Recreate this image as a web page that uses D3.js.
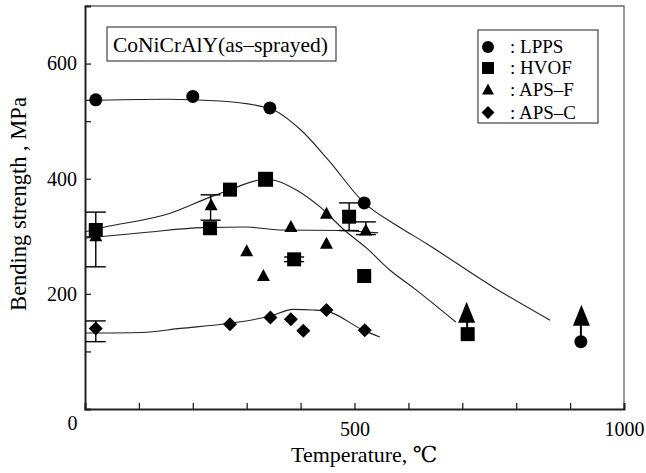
<!DOCTYPE html>
<html>
<head>
<meta charset="utf-8">
<script src="https://cdn.jsdelivr.net/npm/d3@7"></script>
<style>
  html, body { margin: 0; padding: 0; background: #fff; }
  svg { display: block; }
  text { font-family: "Liberation Serif", "Tinos", "Times New Roman", "DejaVu Serif", serif; fill: #000; }
</style>
</head>
<body>
<svg id="chart" width="646" height="473"></svg>
<script>
// ---- Data ----
const lppsT = [20, 200, 343, 518, 920];
const lppsS = [537, 543, 523, 358, 117];
const hvofT = [20, 232, 269, 335, 388, 490, 518, 710];
const hvofS = [311, 314, 381, 399, 260, 334, 231, 130];
const apsfT = [20, 234, 300, 331, 382, 448, 448, 521, 708, 921];
const apsfS = [300, 354, 274, 231, 316, 339, 287, 310, 165, 160];
const apscT = [20, 269, 344, 382, 405, 448, 519];
const apscS = [140, 147, 159, 156, 136, 172, 137];

// error bars with caps: temperature, low, high
const errT  = [20, 20, 233, 388, 490, 521];
const errLo = [247, 117, 328, 256, 310, 303];
const errHi = [342, 153, 372, 264, 358, 325];
// error bars without visible caps (hidden by the markers)
const connT  = [709, 920];
const connLo = [130, 118];
const connHi = [165, 160];

// fitted trend curves
const lppsFitT = [0, 150, 250, 343, 400, 450, 518, 580, 634, 757, 863];
const lppsFitS = [536, 538, 535, 522, 485, 434, 358, 318, 287, 212, 154];
const hvofFitT = [0, 37, 158, 232, 269, 334, 353, 393, 436, 482, 523, 566, 610, 688];
const hvofFitS = [308, 316, 340, 368, 381, 399, 397, 380, 351, 310, 279, 241, 210, 151];
const apsfFitT = [0, 37, 115, 219, 300, 360, 473, 544];
const apsfFitS = [297, 300, 307, 315, 316, 311, 310, 306];
const apscFitT = [0, 105, 177, 269, 343, 386, 423, 448, 516, 547];
const apscFitS = [132, 133, 140, 149, 161, 173, 172, 170, 137, 125];

const xTicks = [0, 100, 200, 300, 400, 500, 600, 700, 800, 900, 1000];
const xTickLabels = [0, 500, 1000];
const yTicks = [100, 200, 300, 400, 500, 600];
const yTickLabels = [200, 400, 600];

const titleText = "CoNiCrAlY(as\u2013sprayed)";
const legendNames = [": LPPS", ": HVOF", ": APS\u2013F", ": APS\u2013C"];
const xLabel = "Temperature, \u2103";
const yLabel = "Bending strength , MPa";

// ---- Drawing ----
const FONT = '"Liberation Serif", "Tinos", "Times New Roman", "DejaVu Serif", serif';
const svg = d3.select("#chart");
const L = 85, R = 624, T = 6, B = 409;
const x = d3.scaleLinear().domain([0, 1000]).range([L, R]);
const y = d3.scaleLinear().domain([0, 700]).range([B, T]);

// frame (top/right)
svg.append("path")
  .attr("d", `M${L},${T}H${R}V${B}`)
  .attr("fill", "none").attr("stroke", "#666").attr("stroke-width", 1.3);

// axes
const xAxis = d3.axisBottom(x).tickValues(xTicks).tickSize(-6).tickPadding(13)
  .tickFormat(d => xTickLabels.includes(d) ? d : "");
const gx = svg.append("g").attr("transform", `translate(0,${B})`).call(xAxis);
gx.attr("font-family", FONT);
gx.select(".domain").attr("stroke", "#222").attr("stroke-width", 2);
gx.selectAll(".tick line").attr("stroke", "#222").attr("stroke-width", 1.3);
gx.selectAll(".tick text").style("font-family", FONT).style("font-size", "20px").attr("fill", "#000");
gx.selectAll(".tick").filter(d => d === 0).select("text").attr("dx", -13).attr("dy", "0.4em");

const yAxis = d3.axisLeft(y).tickValues(yTicks).tickSize(-6).tickPadding(8)
  .tickFormat(d => yTickLabels.includes(d) ? d : "");
const gy = svg.append("g").attr("transform", `translate(${L},0)`).call(yAxis);
gy.attr("font-family", FONT);
gy.select(".domain").attr("stroke", "#222").attr("stroke-width", 2);
gy.selectAll(".tick line").attr("stroke", "#222").attr("stroke-width", 1.3);
gy.selectAll(".tick text").style("font-family", FONT).style("font-size", "20px").attr("fill", "#000");

// axis titles
svg.append("text").attr("x", 291).attr("y", 462)
  .style("font-size", "22px").text(xLabel);
svg.append("text").attr("transform", "translate(26,204) rotate(-90)")
  .attr("text-anchor", "middle").style("font-size", "22.5px").text(yLabel);

// fitted curves
const zip = (a, b) => a.map((v, i) => [v, b[i]]);
const line = d3.line().x(d => x(d[0])).y(d => y(d[1])).curve(d3.curveMonotoneX);
[[lppsFitT, lppsFitS], [hvofFitT, hvofFitS], [apsfFitT, apsfFitS], [apscFitT, apscFitS]].forEach(([a, b]) => {
  svg.append("path").attr("d", line(zip(a, b)))
    .attr("fill", "none").attr("stroke", "#222").attr("stroke-width", 1.1);
});

// error bars
const cap = 10;
const eg = svg.append("g").attr("stroke", "#000").attr("stroke-width", 1.4);
errT.forEach((t, i) => {
  const cx = x(t);
  eg.append("line").attr("x1", cx).attr("x2", cx).attr("y1", y(errLo[i])).attr("y2", y(errHi[i]));
  eg.append("line").attr("x1", cx - cap).attr("x2", cx + cap).attr("y1", y(errLo[i])).attr("y2", y(errLo[i]));
  eg.append("line").attr("x1", cx - cap).attr("x2", cx + cap).attr("y1", y(errHi[i])).attr("y2", y(errHi[i]));
});
connT.forEach((t, i) => {
  const cx = x(t);
  eg.append("line").attr("x1", cx).attr("x2", cx).attr("y1", y(connLo[i])).attr("y2", y(connHi[i]))
    .attr("stroke-width", 2);
});

// marker shapes
function circle(g, cx, cy, r) { g.append("circle").attr("cx", cx).attr("cy", cy).attr("r", r); }
function square(g, cx, cy, s) { g.append("rect").attr("x", cx - s / 2).attr("y", cy - s / 2).attr("width", s).attr("height", s); }
function triangle(g, cx, cy, w, h) {
  g.append("path").attr("d", `M${cx},${cy - h * 0.58}L${cx + w / 2},${cy + h * 0.42}L${cx - w / 2},${cy + h * 0.42}Z`);
}
function diamond(g, cx, cy, s) {
  g.append("path").attr("d", `M${cx},${cy - s / 2}L${cx + s / 2},${cy}L${cx},${cy + s / 2}L${cx - s / 2},${cy}Z`);
}

const mg = svg.append("g").attr("fill", "#000");
apsfT.forEach((t, i) => {
  const big = t > 600;
  triangle(mg, x(t), y(apsfS[i]), big ? 17 : 13, big ? 21 : 12);
});
hvofT.forEach((t, i) => square(mg, x(t), y(hvofS[i]), t === 335 ? 15 : 14));
lppsT.forEach((t, i) => circle(mg, x(t), y(lppsS[i]), 6.5));
apscT.forEach((t, i) => diamond(mg, x(t), y(apscS[i]), 14));

// title box
svg.append("rect").attr("x", 107).attr("y", 27).attr("width", 229).attr("height", 34)
  .attr("fill", "#fff").attr("stroke", "#444").attr("stroke-width", 1.2);
svg.append("text").attr("x", 113).attr("y", 52).style("font-size", "21.5px").text(titleText);

// legend
svg.append("rect").attr("x", 478).attr("y", 30).attr("width", 120).attr("height", 93)
  .attr("fill", "#fff").attr("stroke", "#444").attr("stroke-width", 1.2);
const lg = svg.append("g").attr("fill", "#000");
const lx = 488, ly = [47, 68, 90, 112.5];
circle(lg, lx, ly[0], 6);
square(lg, lx, ly[1], 12);
triangle(lg, lx, ly[2], 12, 11);
diamond(lg, lx, ly[3], 13);
legendNames.forEach((n, i) => {
  svg.append("text").attr("x", 510).attr("y", ly[i] + 6).style("font-size", "19px").text(n);
});
</script>
</body>
</html>
